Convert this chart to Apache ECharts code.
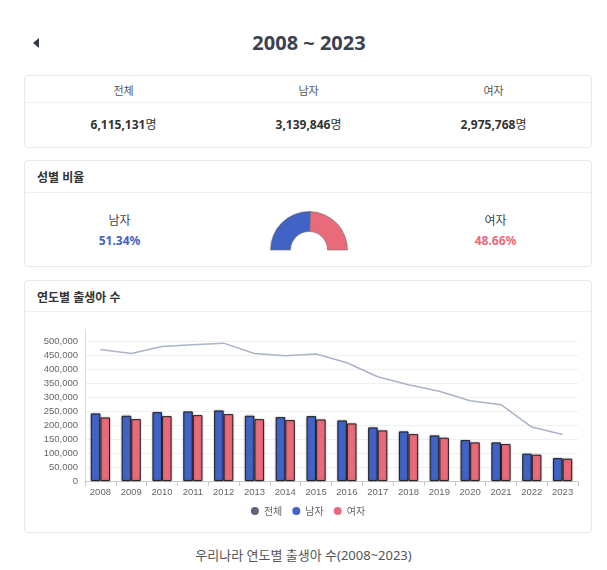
<!DOCTYPE html>
<html><head><meta charset="utf-8">
<script src="https://cdn.jsdelivr.net/npm/echarts@6/dist/echarts.min.js"></script>
<style>
html,body{margin:0;padding:0;background:#fff;width:607px;height:570px;overflow:hidden;font-family:"Noto Sans","Noto Sans CJK KR",sans-serif;}
.abs{position:absolute;}
.card{position:absolute;left:24px;width:568px;border:1px solid #e6e8ec;border-radius:4px;background:#fff;box-sizing:border-box;}
.divider{position:absolute;left:0;right:0;height:1px;background:#eef0f3;}
.title{left:0;width:618px;top:29px;text-align:center;font-size:20px;font-weight:700;color:#3b4150;line-height:28px;}
.back{left:33px;top:38px;width:0;height:0;border-top:5px solid transparent;border-bottom:5px solid transparent;border-right:6px solid #333a48;}
.col{position:absolute;text-align:center;}
.hd{font-size:11px;color:#555;line-height:14px;}
.val{font-size:12px;color:#333;font-weight:700;line-height:18px;}
.val span{font-weight:400;}
.sec{position:absolute;left:12px;font-size:12px;font-weight:700;color:#333;line-height:16px;}
.ratioLbl{font-size:12px;color:#444;line-height:16px;}
.ratioVal{font-size:12px;font-weight:700;line-height:16px;}
.caption{left:0;width:607px;top:546px;text-align:center;font-size:13px;color:#555;line-height:18px;}
</style></head>
<body>
<div class="abs back"></div>
<div class="abs title">2008 ~ 2023</div>

<div class="card" id="card1" style="top:75px;height:73px;">
  <div class="divider" style="top:26px;"></div>
</div>

<div class="card" id="card2" style="top:160px;height:107px;">
  <div class="sec" style="top:9px;">성별 비율</div>
  <div class="divider" style="top:31px;"></div>
</div>
<div class="abs" id="donut" style="left:259px;top:200px;width:100px;height:60px;"></div>

<div class="card" id="card3" style="top:280px;height:253px;">
  <div class="sec" style="top:9px;">연도별 출생아 수</div>
  <div class="divider" style="top:30px;"></div>
</div>
<div class="abs" id="bar" style="left:24px;top:311px;width:568px;height:221px;"></div>

<div class="abs caption">우리나라 연도별 출생아 수(2008~2023)</div>

<script>
const years = ['2008','2009','2010','2011','2012','2013','2014','2015','2016','2017','2018','2019','2020','2021','2022','2023'];
const totalBirths = [470000, 456000, 481000, 487000, 493000, 456000, 448000, 454000, 423000, 373000, 344000, 321000, 287000, 273000, 193000, 166000];
const maleBirths = [241700, 233300, 246400, 248800, 252400, 233300, 228600, 232100, 216700, 191700, 177400, 163100, 146400, 138100, 97600, 82100];
const femaleBirths = [227400, 221400, 232100, 235700, 239300, 221400, 217900, 220200, 206000, 181000, 167900, 154800, 138100, 132100, 94000, 79800];
const summaryLabels = ['전체', '남자', '여자'];
const summaryValues = [6115131, 3139846, 2975768];
const ratioLabels = ['남자', '여자'];
const ratioValues = [51.34, 48.66];
const seriesNames = ['전체', '남자', '여자'];

const BLUE = '#4263c6', PINK = '#e96b7b', DARK = '#5d6679', LINE = '#a9b4c7';

// summary card
const card1 = document.getElementById('card1');
summaryLabels.forEach((lbl, i) => {
  const h = document.createElement('div');
  h.className = 'col hd'; h.style.left = (6 + i * 185) + 'px'; h.style.width = '185px'; h.style.top = '8px';
  h.textContent = lbl; card1.appendChild(h);
  const v = document.createElement('div');
  v.className = 'col val'; v.style.left = (6 + i * 185) + 'px'; v.style.width = '185px'; v.style.top = '40px';
  v.innerHTML = summaryValues[i].toLocaleString('en-US') + '<span>명</span>';
  card1.appendChild(v);
});

// ratio labels
const card2 = document.getElementById('card2');
const ratioColors = [BLUE, PINK];
const ratioLeft = [0, 376];
ratioLabels.forEach((lbl, i) => {
  const a = document.createElement('div');
  a.className = 'col ratioLbl'; a.style.left = ratioLeft[i] + 'px'; a.style.width = '189px'; a.style.top = '52px';
  a.textContent = lbl; card2.appendChild(a);
  const b = document.createElement('div');
  b.className = 'col ratioVal'; b.style.left = ratioLeft[i] + 'px'; b.style.width = '189px'; b.style.top = '72px';
  b.style.color = ratioColors[i];
  b.textContent = ratioValues[i].toFixed(2) + '%'; card2.appendChild(b);
});

// donut
const donut = echarts.init(document.getElementById('donut'));
const ratioSum = ratioValues.reduce((a, b) => a + b, 0);
donut.setOption({
  animation: false,
  series: [{
    type: 'pie', silent: true, startAngle: 180, clockwise: true,
    center: [50, 50], radius: [18.5, 38.5],
    label: { show: false }, labelLine: { show: false },
    itemStyle: { borderColor: '#6b6b6b', borderWidth: 0.6 },
    data: [
      { value: ratioValues[0], name: ratioLabels[0], itemStyle: { color: BLUE } },
      { value: ratioValues[1], name: ratioLabels[1], itemStyle: { color: PINK } },
      { value: ratioSum, name: '', itemStyle: { color: 'rgba(0,0,0,0)', borderWidth: 0 } }
    ]
  }]
});

// bar chart
const bar = echarts.init(document.getElementById('bar'));
const axisFont = { fontFamily: 'Liberation Sans, Arial, sans-serif', fontSize: 9.5, color: '#666' };
const barBorder = { borderColor: 'rgba(20,20,20,0.85)', borderWidth: 1, shadowColor: 'rgba(0,0,0,0.35)', shadowBlur: 2 };
bar.setOption({
  animation: false,
  grid: { left: 61, right: 14, top: 19, bottom: 51 },
  legend: {
    data: seriesNames, top: 190, left: 'center', icon: 'circle', itemWidth: 8, itemHeight: 8, itemGap: 10,
    itemStyle: { borderWidth: 0, shadowBlur: 0 },
    textStyle: { fontSize: 10, color: '#666', fontFamily: '"Noto Sans CJK KR", sans-serif' }
  },
  xAxis: {
    type: 'category', data: years,
    axisLine: { lineStyle: { color: '#c8c8c8' } },
    axisTick: { show: true, length: 5, lineStyle: { color: '#c8c8c8' } },
    axisLabel: Object.assign({ margin: 6, interval: 0 }, axisFont)
  },
  yAxis: {
    type: 'value', min: 0, max: 540000, interval: 50000,
    axisLine: { show: true, lineStyle: { color: '#dcdcdc' } },
    axisTick: { show: false },
    axisLabel: Object.assign({ margin: 7, showMaxLabel: false, formatter: v => v.toLocaleString('en-US') }, axisFont),
    splitLine: { show: true, showMaxLine: false, lineStyle: { color: '#f0f0f0' } }
  },
  series: [
    { name: seriesNames[0], type: 'line', data: totalBirths, showSymbol: false, symbol: 'none',
      itemStyle: { color: DARK }, lineStyle: { color: LINE, width: 1.5 }, z: 3 },
    { name: seriesNames[1], type: 'bar', data: maleBirths, barWidth: 9.6, barGap: '0%',
      itemStyle: Object.assign({ color: BLUE }, barBorder) },
    { name: seriesNames[2], type: 'bar', data: femaleBirths, barWidth: 9.6, barGap: '0%',
      itemStyle: Object.assign({ color: PINK }, barBorder) }
  ]
});
</script>
</body></html>
